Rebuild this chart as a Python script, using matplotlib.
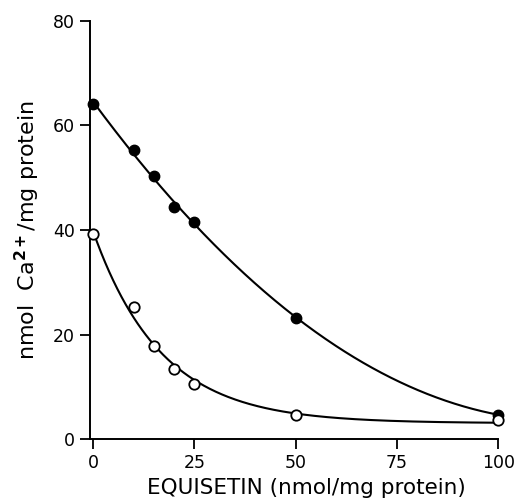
import numpy as np
import matplotlib
matplotlib.use("Agg")
import matplotlib.pyplot as plt

# Data
equisetin = [0, 10, 15, 20, 25, 50, 100]
ca_filled = [64.1, 55.3, 50.3, 44.4, 41.5, 23.2, 4.7]
ca_open = [39.2, 25.3, 17.9, 13.4, 10.5, 4.7, 3.7]
xticks = [0, 25, 50, 75, 100]
yticks = [0, 20, 40, 60, 80]

x = np.array(equisetin, dtype=float)
yf = np.array(ca_filled)
yo = np.array(ca_open)
xs = np.linspace(0, 100, 400)

# fitted curves (derived from the data)
pf = np.polyfit(x, yf, 2)
curve_f = np.polyval(pf, xs)

best = None
for k in np.linspace(0.005, 0.3, 600):
    A = np.vstack([np.ones_like(x), np.exp(-k * x)]).T
    coef, *_ = np.linalg.lstsq(A, yo, rcond=None)
    err = np.sum((A @ coef - yo) ** 2)
    if best is None or err < best[0]:
        best = (err, k, coef)
_, kb, cb = best
curve_o = cb[0] + cb[1] * np.exp(-kb * xs)

plt.rcParams['font.family'] = ['DejaVu Sans']
fig = plt.figure(figsize=(5.19, 4.99), dpi=100)
ax = fig.add_axes([0.173, 0.12, 0.787, 0.838])

ax.plot(xs, curve_f, color='black', lw=1.5)
ax.plot(xs, curve_o, color='black', lw=1.5)
ax.plot(x, yf, 'o', color='black', ms=7.5, clip_on=False, zorder=3)
ax.plot(x, yo, 'o', mfc='white', mec='black', mew=1.3, ms=7.5, clip_on=False, zorder=3)

ax.set_xlim(-0.8, 100)
ax.set_ylim(0, 80)
ax.set_xticks(xticks)
ax.set_yticks(yticks)
for s in ['top', 'right']:
    ax.spines[s].set_visible(False)
for s in ['left', 'bottom']:
    ax.spines[s].set_linewidth(1.4)
ax.tick_params(direction='out', length=7, width=1.3, labelsize=12.5)
ax.set_xlabel('EQUISETIN (nmol/mg protein)', fontsize=15.5)
ax.xaxis.set_label_coords(0.53, -0.092)
ax.set_ylabel('nmol  Ca$^{\\mathbf{2+}}$/mg protein', fontsize=16, labelpad=8)

fig.savefig('out.png', dpi=100)
